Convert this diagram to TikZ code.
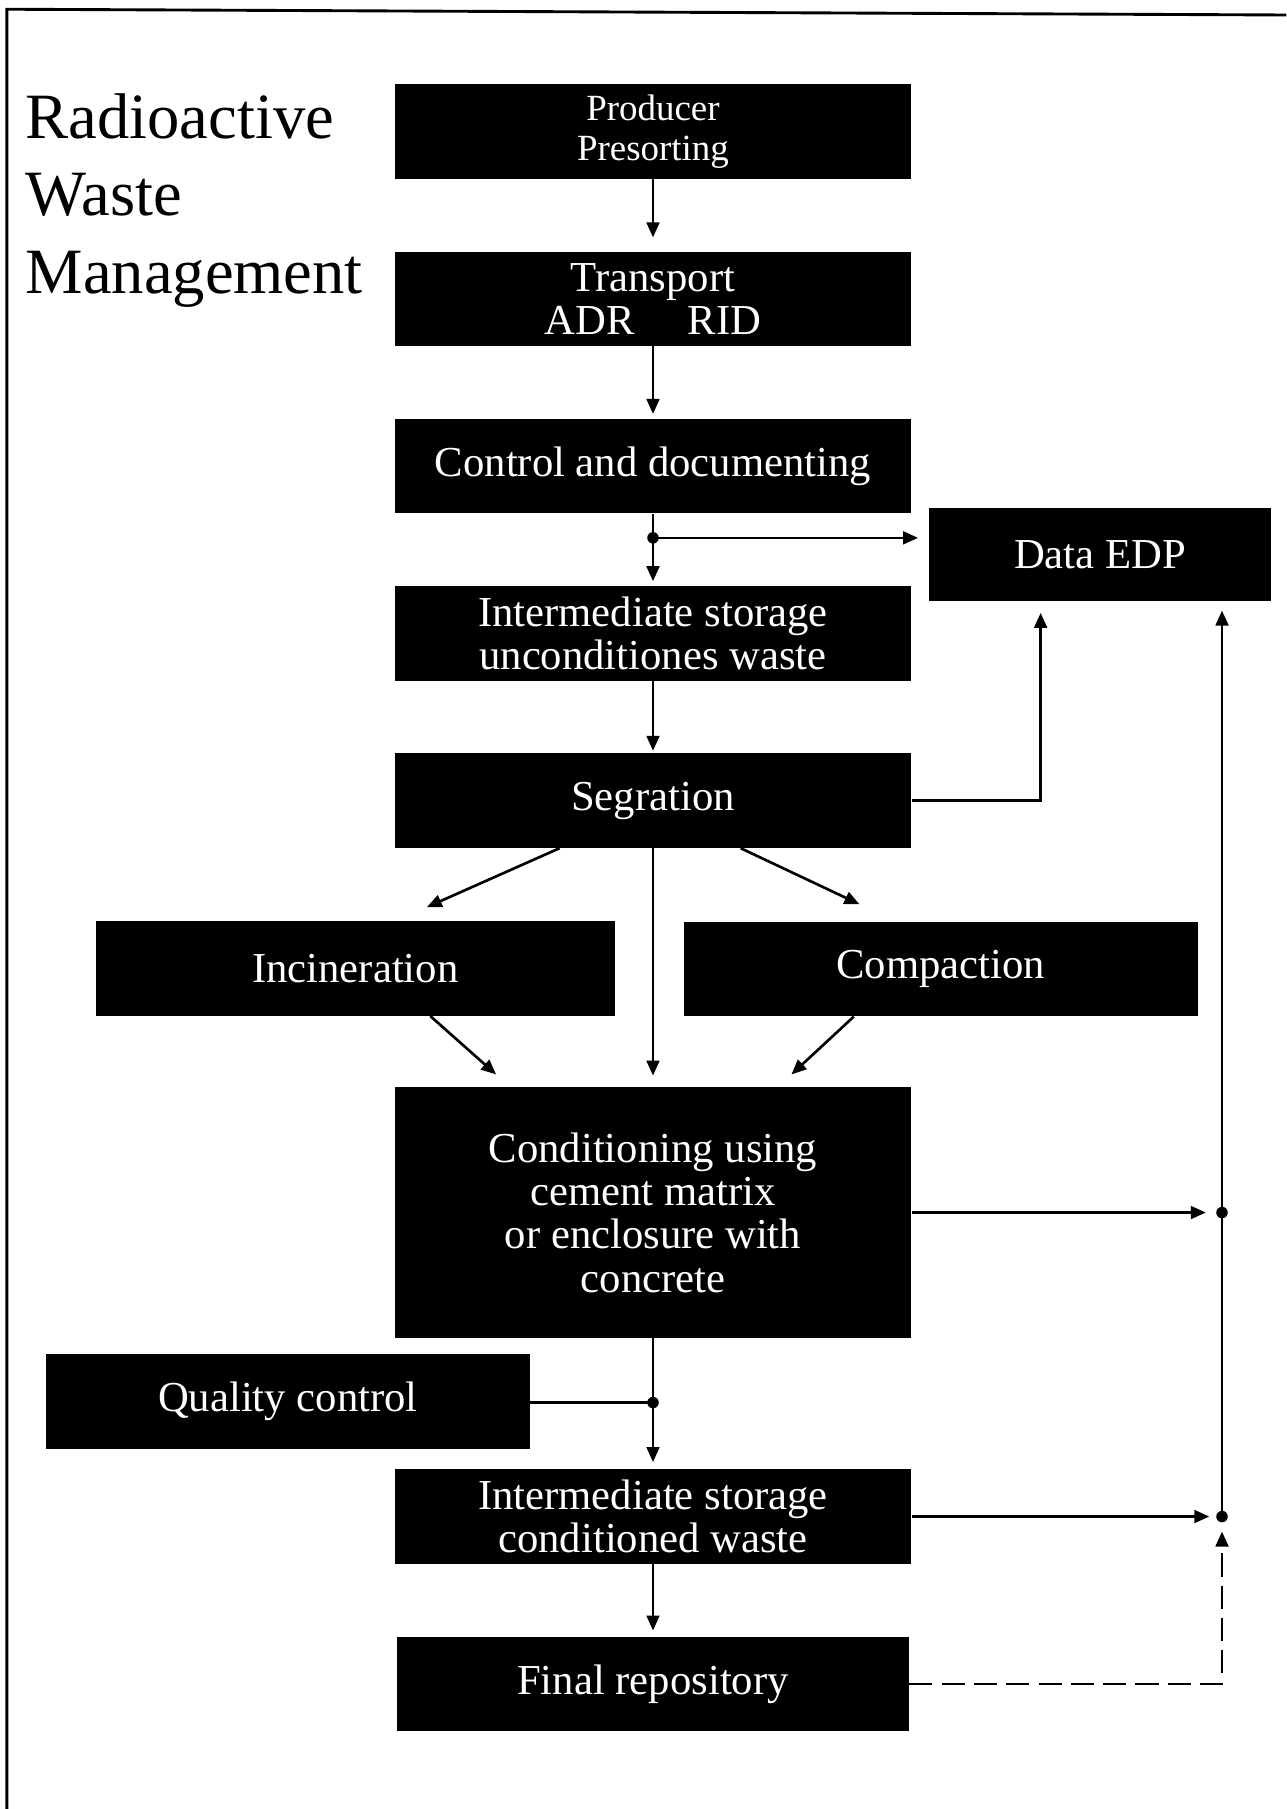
\documentclass[tikz,border=0pt]{standalone}
\usepackage{fontspec}
\setmainfont{Liberation Serif}
\usetikzlibrary{positioning,arrows.meta}
\tikzset{box node/.style={rectangle,fill=black,text=white,minimum width=448pt,minimum height=82pt,inner sep=0pt,align=center,font=\fontsize{37}{37.5}\selectfont},
  flow/.style={line width=2.3pt,-{Triangle[length=13pt,width=11pt]}} }

\begin{document}
\begin{tikzpicture}[x=1pt,y=-1pt]
\useasboundingbox (0,0) rectangle (1115,1568);
\draw[line width=2.5pt] (6,1568) -- (6,8) -- (1115,13);

\node[anchor=north west,align=left,inner sep=0pt,font=\fontsize{56}{67}\selectfont] (title) at (22,81) {Radioactive\\Waste\\Management};

\begin{scope}[on grid]

  \node[box node,font=\fontsize{32}{35}\selectfont] (1) at (566,114) {Producer\\Presorting};
  \node[box node] (2) [below = 145pt of 1] {Transport\\ADR\hspace{1.25em}RID};
  \node[box node] (3) [below = 145pt of 2] {Control and documenting};
  \node[box node] (4) [below = 145pt of 3] {Intermediate storage\\unconditiones waste};
  \node[box node] (5) [below = 145pt of 4] {Segration};
  \node[box node,minimum width=450pt] (6) [below left = 145.5pt and 258pt of 5] {Incineration};
  \node[box node,minimum width=445pt] (7) [below right = 146pt and 249.5pt of 5] {Compaction};
  \node[box node,minimum height=217pt] (8) [below = 357pt of 5] {Conditioning using\\cement matrix\\or enclosure with\\concrete};
  \node[box node,minimum width=419pt] (9) [below left = 164pt and 316.5pt of 8] {Quality control};
  \node[box node] (10) [below = 263.5pt of 8] {Intermediate storage\\conditioned waste};
  \node[box node,minimum width=444pt] (11) [below = 145pt of 10] {Final repository};
  \node[box node,minimum width=297pt,minimum height=81pt] (12) [below right = 76.5pt and 387.5pt of 3] {Data EDP};

  \coordinate (d1) at ([yshift=-21pt]3.south);
  \coordinate (d2) at ([xshift=269pt]8.east);
  \coordinate (d3) at ([xshift=269pt]10.east);
  \coordinate (d4) at ([yshift=-56pt]8.south);

  \path[flow]
    (1) edge [shorten >=12pt] (2)
    (2) edge [shorten >=4pt] (3)
    (d1) edge [shorten >=4pt] (4)
    (d1) edge [shorten >=9pt] (d1 -| 12.west)
    (4) edge [shorten >=2pt] (5)
    (5) edge [shorten >=10pt] (8)
    ([xshift=-81pt]5.south) edge ([xshift=62pt,yshift=12pt]6.north)
    ([xshift=76pt]5.south) edge ([xshift=-70.5pt,yshift=15pt]7.north)
    ([xshift=65pt]6.south) edge ([xshift=-136pt,yshift=11pt]8.north)
    ([xshift=-75.5pt]7.south) edge ([xshift=120pt,yshift=11pt]8.north)
    (8) edge [shorten >=14pt] (d2)
    (10) edge [shorten >=11pt] (d3)
    (d3) edge [shorten >=8pt] (d3 |- 12.south)
    (d4) edge [shorten >=6pt] (10)
    (10) edge [shorten >=5pt] (11)
    ;
  \draw[line width=2.3pt] (3.south) -- (d1);
  \draw[line width=2.3pt] (8.south) -- (d4);
  \draw[line width=2.3pt] (d4) -- (d4 -| 9.east);
  \draw[flow,shorten >=10pt] (5.east) -| ([xshift=-51.5pt]12.south);
  \draw[flow,dash pattern=on 20pt off 8pt,shorten >=13pt] (11.east) -| (d3);

  \foreach \d in {d1,d2,d3,d4}
    \fill (\d) circle (5pt);
\end{scope}
\end{tikzpicture}
\end{document}
